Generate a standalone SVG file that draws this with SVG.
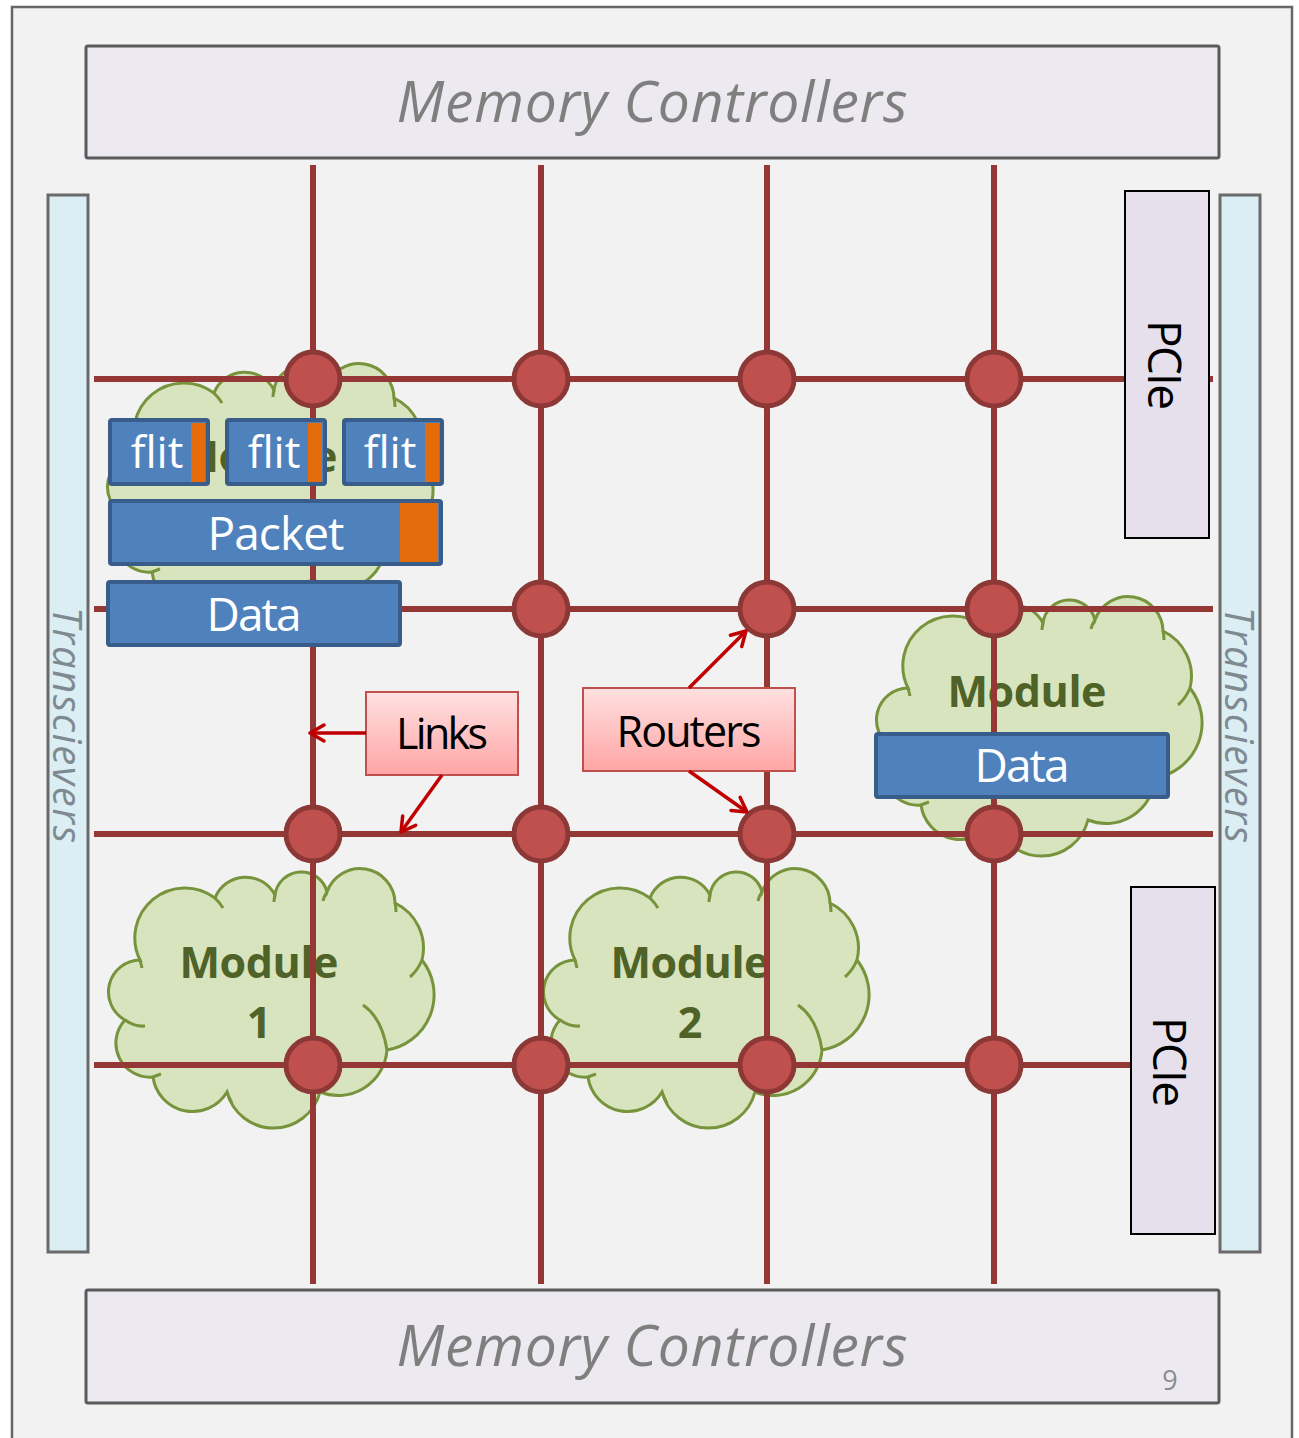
<svg xmlns="http://www.w3.org/2000/svg" xmlns:xlink="http://www.w3.org/1999/xlink" width="1299" height="1438" viewBox="0 0 1299 1438">
  <style>
    .frame { fill: #f2f2f2; stroke: #666666; stroke-width: 2.5; }
    .mc { fill: #ece9f0; stroke: #5a5a5a; stroke-width: 3; }
    .mc-text { font-family: "Open Sans", "Liberation Sans", sans-serif; font-style: italic; font-size: 57px; fill: #7f7f7f; text-anchor: middle; }
    .trx { fill: #dbeef4; stroke: #6a6a6a; stroke-width: 3; }
    .trx-text { font-family: "Open Sans", "Liberation Sans", sans-serif; font-style: italic; font-size: 40px; fill: #7f8a90; text-anchor: middle; }
    .pcie { fill: #e5e0ec; stroke: #000000; stroke-width: 2; }
    .pcie-text { font-family: "Open Sans", "Liberation Sans", sans-serif; font-size: 46px; fill: #000000; text-anchor: middle; }
    .mod-text { font-family: "Open Sans", "Liberation Sans", sans-serif; font-weight: bold; font-size: 43px; fill: #4f6228; text-anchor: middle; }
    .link { stroke: #953735; stroke-width: 6; fill: none; }
    .router { fill: #c0504d; stroke: #8c3836; stroke-width: 5; }
    .blk { fill: #4f81bd; stroke: #385d8a; stroke-width: 4; }
    .tag { fill: #e46c0a; }
    .blk-text { font-family: "Open Sans", "Liberation Sans", sans-serif; font-size: 46px; fill: #ffffff; text-anchor: middle; }
    .flit-text { font-family: "Open Sans", "Liberation Sans", sans-serif; font-size: 44px; fill: #ffffff; text-anchor: middle; }
    .callout { fill: url(#pinkFill); stroke: #c0504d; stroke-width: 2; }
    .callout-text { font-family: "Open Sans", "Liberation Sans", sans-serif; font-size: 43px; fill: #000000; text-anchor: middle; }
    .pointer { stroke: #c00000; stroke-width: 3.5; fill: none; marker-end: url(#arrowHead); }
  </style>
  <defs>
    <linearGradient id="pinkFill" x1="0" y1="0" x2="0" y2="1">
      <stop offset="0" stop-color="#ffe1e1"/>
      <stop offset="1" stop-color="#ffa5a5"/>
    </linearGradient>
    <marker id="arrowHead" markerUnits="userSpaceOnUse" markerWidth="22" markerHeight="22" refX="17" refY="10" orient="auto">
      <path d="M3,2 L17,10 L3,18" fill="none" stroke="#c00000" stroke-width="3.5" stroke-linecap="round" stroke-linejoin="round"/>
    </marker>
    <!-- cloud outline, local box about 324 x 258 -->
    <g id="cloud">
      <path d="M32,90 A50,50 0 0 1 107,28 A33,33 0 0 1 167,25 A26.5,26.5 0 0 1 219,22 A35,35 0 0 1 287,33 A50,50 0 0 1 314,90 A56,56 0 0 1 279,180 A49,49 0 0 1 212,222 A48,48 0 0 1 119,222 A40,40 0 0 1 45,207 A34,34 0 0 1 17,150 A32,32 0 0 1 32,90 Z" fill="#d7e4bd" stroke="#77933c" stroke-width="3"/>
      <path d="M17,150 Q27,157 37,156 M32,90 Q33,94 34,98 M107,28 Q112,33 115,38 M167,25 Q166,28 166,32 M219,22 Q216,26 215,31 M287,33 Q288,37 288,42 M314,90 Q310,100 302,107 M255,135 Q274,148 279,180 M119,222 Q121,228 124,233 M45,207 Q50,205 53,204" fill="none" stroke="#77933c" stroke-width="3"/>
    </g>
  </defs>

  <rect x="0" y="0" width="1299" height="1438" fill="#ffffff"/>
  <rect class="frame" x="12" y="7" width="1280" height="1445"/>

  <g id="memory-controllers-top">
    <rect class="mc" x="86" y="46" width="1133" height="112" rx="2"/>
    <text class="mc-text" x="652" y="122" textLength="511">Memory Controllers</text>
  </g>
  <g id="memory-controllers-bottom">
    <rect class="mc" x="86" y="1290" width="1133" height="113" rx="2"/>
    <text class="mc-text" x="652" y="1366" textLength="511">Memory Controllers</text>
    <text x="1170" y="1390" font-family="Open Sans, Liberation Sans, sans-serif" font-size="27" fill="#8c8c8c" text-anchor="middle">9</text>
  </g>

  <g id="transceivers-left">
    <rect class="trx" x="48" y="195" width="40" height="1057"/>
    <text class="trx-text" transform="translate(53,725) rotate(90)" textLength="236">Transcievers</text>
  </g>
  <g id="transceivers-right">
    <rect class="trx" x="1220" y="195" width="40" height="1057"/>
    <text class="trx-text" transform="translate(1225,725) rotate(90)" textLength="236">Transcievers</text>
  </g>

  <g id="module-top-left">
    <use xlink:href="#cloud" href="#cloud" transform="translate(107,365)"/>
    <text class="mod-text" x="258" y="472" textLength="159">Module</text>
  </g>
  <g id="module-1">
    <use xlink:href="#cloud" href="#cloud" transform="translate(108,870)"/>
    <text class="mod-text" x="259" y="978" textLength="159">Module</text>
    <text class="mod-text" x="259" y="1038">1</text>
  </g>
  <g id="module-2">
    <use xlink:href="#cloud" href="#cloud" transform="translate(543,870)"/>
    <text class="mod-text" x="690" y="978" textLength="159">Module</text>
    <text class="mod-text" x="690" y="1038">2</text>
  </g>
  <g id="module-right">
    <use xlink:href="#cloud" href="#cloud" transform="translate(876,598)"/>
    <text class="mod-text" x="1027" y="707" textLength="159">Module</text>
  </g>

  <g id="mesh-links">
    <line class="link" x1="313" y1="165" x2="313" y2="1284"/>
    <line class="link" x1="541" y1="165" x2="541" y2="1284"/>
    <line class="link" x1="767" y1="165" x2="767" y2="1284"/>
    <line class="link" x1="994" y1="165" x2="994" y2="1284"/>
    <line class="link" x1="94" y1="379" x2="1213" y2="379"/>
    <line class="link" x1="94" y1="609" x2="1213" y2="609"/>
    <line class="link" x1="94" y1="834" x2="1213" y2="834"/>
    <line class="link" x1="94" y1="1065" x2="1131" y2="1065"/>
  </g>

  <g id="pcie-top">
    <rect class="pcie" x="1125" y="191" width="84" height="347"/>
    <text class="pcie-text" transform="translate(1148,365) rotate(90)" textLength="90">PCIe</text>
  </g>
  <g id="pcie-bottom">
    <rect class="pcie" x="1131" y="887" width="84" height="347"/>
    <text class="pcie-text" transform="translate(1153,1062) rotate(90)" textLength="90">PCIe</text>
  </g>

  <g id="routers">
    <circle class="router" cx="313" cy="379" r="27"/>
    <circle class="router" cx="541" cy="379" r="27"/>
    <circle class="router" cx="767" cy="379" r="27"/>
    <circle class="router" cx="994" cy="379" r="27"/>
    <circle class="router" cx="313" cy="609" r="27"/>
    <circle class="router" cx="541" cy="609" r="27"/>
    <circle class="router" cx="767" cy="609" r="27"/>
    <circle class="router" cx="994" cy="609" r="27"/>
    <circle class="router" cx="313" cy="834" r="27"/>
    <circle class="router" cx="541" cy="834" r="27"/>
    <circle class="router" cx="767" cy="834" r="27"/>
    <circle class="router" cx="994" cy="834" r="27"/>
    <circle class="router" cx="313" cy="1065" r="27"/>
    <circle class="router" cx="541" cy="1065" r="27"/>
    <circle class="router" cx="767" cy="1065" r="27"/>
    <circle class="router" cx="994" cy="1065" r="27"/>
  </g>

  <g id="flit-1">
    <rect class="blk" x="110" y="420" width="98" height="64" rx="2"/>
    <rect class="tag" x="191" y="423" width="14" height="59"/>
    <text class="flit-text" x="157" y="468">flit</text>
  </g>
  <g id="flit-2">
    <rect class="blk" x="227" y="420" width="98" height="64" rx="2"/>
    <rect class="tag" x="308" y="423" width="14" height="59"/>
    <text class="flit-text" x="274" y="468">flit</text>
  </g>
  <g id="flit-3">
    <rect class="blk" x="344" y="420" width="98" height="64" rx="2"/>
    <rect class="tag" x="425" y="423" width="14" height="59"/>
    <text class="flit-text" x="390" y="468">flit</text>
  </g>
  <g id="packet">
    <rect class="blk" x="110" y="501" width="331" height="63" rx="2"/>
    <rect class="tag" x="400" y="503" width="38" height="59"/>
    <text class="blk-text" x="276" y="550" textLength="137">Packet</text>
  </g>
  <g id="data-left">
    <rect class="blk" x="108" y="582" width="292" height="63" rx="2"/>
    <text class="blk-text" x="254" y="631" textLength="95">Data</text>
  </g>
  <g id="data-right">
    <rect class="blk" x="876" y="734" width="292" height="63" rx="2"/>
    <text class="blk-text" x="1022" y="782" textLength="95">Data</text>
  </g>

  <g id="label-links">
    <rect class="callout" x="366" y="692" width="152" height="83"/>
    <text class="callout-text" x="442" y="749" textLength="92">Links</text>
  </g>
  <g id="label-routers">
    <rect class="callout" x="583" y="688" width="212" height="83"/>
    <text class="callout-text" x="689" y="747" textLength="145">Routers</text>
  </g>

  <g id="label-pointers">
    <line class="pointer" x1="366" y1="733" x2="310" y2="733"/>
    <line class="pointer" x1="442" y1="775" x2="401" y2="832"/>
    <line class="pointer" x1="689" y1="688" x2="746" y2="631"/>
    <line class="pointer" x1="689" y1="771" x2="747" y2="812"/>
  </g>
</svg>
